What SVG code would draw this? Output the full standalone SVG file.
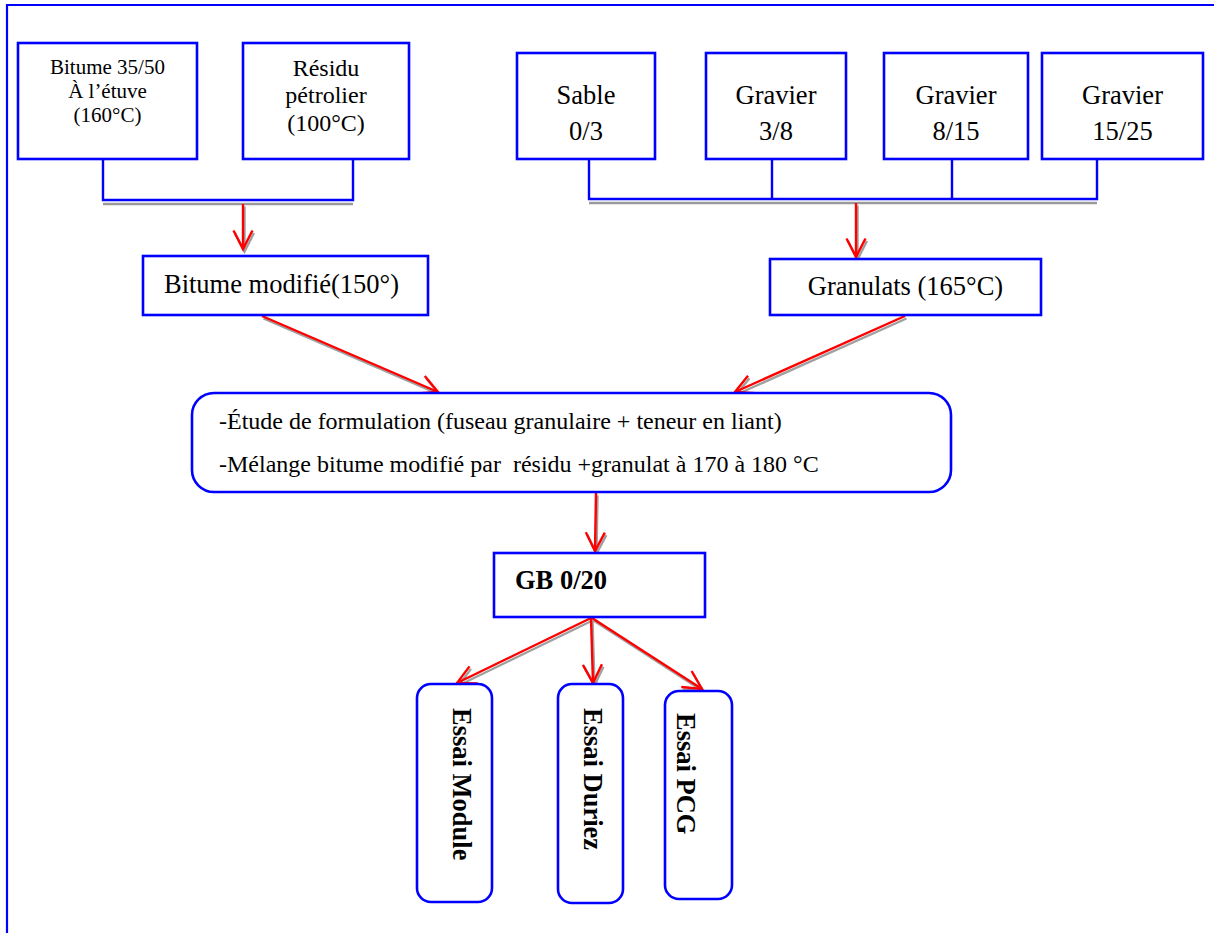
<svg xmlns="http://www.w3.org/2000/svg" width="1214" height="933" viewBox="0 0 1214 933">
  <style>
    .box { fill: #ffffff; stroke: #0000ff; stroke-width: 2.6; }
    .link { fill: none; stroke: #0000ff; stroke-width: 2.4; }
    .lshadow { fill: none; stroke: #9a9a9a; stroke-width: 2.4; }
    .arrow { fill: none; stroke: #ff0000; stroke-width: 2.4; marker-end: url(#ahRed); }
    .ashadow { fill: none; stroke: #a0a0a0; stroke-width: 2.4; marker-end: url(#ahGray); }
    text { font-family: "Liberation Serif", "Times New Roman", serif; fill: #000000; }
    .t21 { font-size: 21px; text-anchor: middle; }
    .t24 { font-size: 24px; text-anchor: middle; }
    .t26 { font-size: 26.5px; text-anchor: middle; }
    .f24 { font-size: 24px; }
    .b26 { font-size: 26.5px; font-weight: bold; }
  </style>
  <defs>
    <marker id="ahRed" markerUnits="userSpaceOnUse" markerWidth="30" markerHeight="30" viewBox="-24 -15 30 30" refX="0" refY="0" orient="auto">
      <path d="M-18.5,-9.5 L0,0 L-18.5,9.5" fill="none" stroke="#ff0000" stroke-width="2.4"/>
    </marker>
    <marker id="ahGray" markerUnits="userSpaceOnUse" markerWidth="30" markerHeight="30" viewBox="-24 -15 30 30" refX="0" refY="0" orient="auto">
      <path d="M-18.5,-9.5 L0,0 L-18.5,9.5" fill="none" stroke="#a0a0a0" stroke-width="2.4"/>
    </marker>
  </defs>

  <rect width="1214" height="933" fill="#ffffff"/>

  <!-- page frame -->
  <path d="M7,933 V5 H1214" fill="none" stroke="#0000ff" stroke-width="2.2"/>

  <!-- connectors -->
  <g id="connectors">
    <!-- binder collector -->
    <path class="lshadow" d="M103,204 H353"/>
    <path class="link" d="M103,159 V200 H353 V159"/>
    <!-- aggregate collector -->
    <path class="lshadow" d="M589,203 H1097"/>
    <path class="link" d="M589,159 V199 H1097 V159 M772,159 V199 M952,159 V199"/>

    <!-- shadows of arrows -->
    <g transform="translate(1.5,2.5)">
      <path class="ashadow" d="M243,204 L243,249"/>
      <path class="ashadow" d="M856,203 L856,257"/>
      <path class="ashadow" d="M262,316 L438,392"/>
      <path class="ashadow" d="M905,316 L735,392"/>
      <path class="ashadow" d="M596,493 L595,551"/>
      <path class="ashadow" d="M591,618 L457,683"/>
      <path class="ashadow" d="M591,618 L593,683"/>
      <path class="ashadow" d="M592,618 L702,689"/>
    </g>
    <!-- arrows -->
    <path class="arrow" d="M243,204 L243,249"/>
    <path class="arrow" d="M856,203 L856,257"/>
    <path class="arrow" d="M262,316 L438,392"/>
    <path class="arrow" d="M905,316 L735,392"/>
    <path class="arrow" d="M596,493 L595,551"/>
    <path class="arrow" d="M591,618 L457,683"/>
    <path class="arrow" d="M591,618 L593,683"/>
    <path class="arrow" d="M592,618 L702,689"/>
  </g>

  <!-- raw binder -->
  <g id="bitume-3550">
    <rect class="box" x="18" y="43" width="179" height="116"/>
    <text class="t21" x="107.5" y="74">Bitume 35/50</text>
    <text class="t21" x="107.5" y="98">À l’étuve</text>
    <text class="t21" x="107.5" y="122">(160°C)</text>
  </g>

  <g id="residu">
    <rect class="box" x="243" y="43" width="166" height="116"/>
    <text class="t24" x="326" y="76">Résidu</text>
    <text class="t24" x="326" y="103">pétrolier</text>
    <text class="t24" x="326" y="131">(100°C)</text>
  </g>

  <!-- aggregates -->
  <g id="sable-03">
    <rect class="box" x="517" y="53" width="138" height="106"/>
    <text class="t26" x="586" y="104">Sable</text>
    <text class="t26" x="586" y="140">0/3</text>
  </g>
  <g id="gravier-38">
    <rect class="box" x="706" y="53" width="140" height="106"/>
    <text class="t26" x="776" y="104">Gravier</text>
    <text class="t26" x="776" y="140">3/8</text>
  </g>
  <g id="gravier-815">
    <rect class="box" x="884" y="53" width="144" height="106"/>
    <text class="t26" x="956" y="104">Gravier</text>
    <text class="t26" x="956" y="140">8/15</text>
  </g>
  <g id="gravier-1525">
    <rect class="box" x="1042" y="53" width="161" height="106"/>
    <text class="t26" x="1122.5" y="104">Gravier</text>
    <text class="t26" x="1122.5" y="140">15/25</text>
  </g>

  <!-- intermediate products -->
  <g id="bitume-modifie">
    <rect class="box" x="143" y="256" width="285" height="59"/>
    <text class="t26" x="281.5" y="293">Bitume modifié(150°)</text>
  </g>
  <g id="granulats">
    <rect class="box" x="770" y="259" width="271" height="56"/>
    <text class="t26" x="905.5" y="295">Granulats (165°C)</text>
  </g>

  <!-- mix design -->
  <g id="formulation">
    <rect class="box" x="192" y="393" width="759" height="99" rx="22" ry="22"/>
    <text class="f24" x="219" y="429">-Étude de formulation (fuseau granulaire + teneur en liant)</text>
    <text class="f24" x="219" y="472" xml:space="preserve">-Mélange bitume modifié par  résidu +granulat à 170 à 180 °C</text>
  </g>

  <g id="gb-020">
    <rect class="box" x="494" y="553" width="211" height="64"/>
    <text class="b26" x="515" y="589">GB 0/20</text>
  </g>

  <!-- tests -->
  <g id="essai-module">
    <rect class="box" x="417" y="684" width="75" height="218" rx="14" ry="14"/>
    <text class="b26" transform="translate(453,708) rotate(90)">Essai Module</text>
  </g>
  <g id="essai-duriez">
    <rect class="box" x="558" y="684" width="65" height="219" rx="14" ry="14"/>
    <text class="b26" transform="translate(584,708) rotate(90)">Essai Duriez</text>
  </g>
  <g id="essai-pcg">
    <rect class="box" x="665" y="691" width="67" height="208" rx="14" ry="14"/>
    <text class="b26" transform="translate(677,713) rotate(90)">Essai PCG</text>
  </g>
</svg>
